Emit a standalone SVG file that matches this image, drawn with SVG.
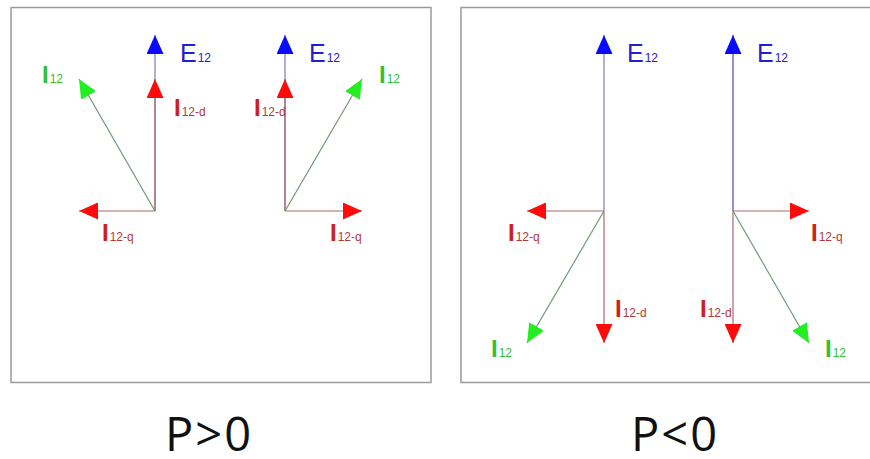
<svg xmlns="http://www.w3.org/2000/svg" width="870" height="459" viewBox="0 0 870 459">
<defs>
<style>
.frame{fill:#fff;stroke:#9a9a9a;stroke-width:1.5}
.le{stroke:#7f7fb5;stroke-width:1.2;fill:none}
.le2{stroke:#4a4aa8;stroke-width:1.2;fill:none}
.lr{stroke:#a86a6a;stroke-width:1.2;fill:none}
.lg{stroke:#6f9a6f;stroke-width:1.2;fill:none}
.ab{marker-end:url(#mb)}
.ar{marker-end:url(#mr)}
.ag{marker-end:url(#mg)}
text{font-family:"Liberation Sans",Arial,sans-serif}
.big{font-size:25px}
.bi{font-size:24px;font-weight:bold}
.sub{font-size:12px}
.te{fill:#2020d0}
.tr{fill:#cc2020}
.tsr{fill:#b03838}
.tg{fill:#33c033}
.tp{font-family:"Open Sans","Noto Sans",sans-serif;font-size:47px;letter-spacing:2px;fill:#111}
</style>
<marker id="mb" viewBox="0 0 19 17" refX="19" refY="8.5" markerWidth="19" markerHeight="17" markerUnits="userSpaceOnUse" orient="auto"><path d="M0,0 L19,8.5 L0,17 Z" fill="#0a0aff"/></marker>
<marker id="mr" viewBox="0 0 19 17" refX="19" refY="8.5" markerWidth="19" markerHeight="17" markerUnits="userSpaceOnUse" orient="auto"><path d="M0,0 L19,8.5 L0,17 Z" fill="#ff0a0a"/></marker>
<marker id="mg" viewBox="0 0 19 17" refX="19" refY="8.5" markerWidth="19" markerHeight="17" markerUnits="userSpaceOnUse" orient="auto"><path d="M0,0 L19,8.5 L0,17 Z" fill="#22ee22"/></marker>
</defs>
<rect class="frame" x="11" y="7.5" width="420" height="375"/>
<rect class="frame" x="461" y="7.5" width="420" height="375"/>
<g id="connectors">
<line class="le ab" x1="155" y1="211" x2="155" y2="35"/>
<line class="lr ar" x1="155" y1="211" x2="155" y2="79"/>
<line class="lr ar" x1="155" y1="211" x2="79" y2="211"/>
<line class="lg ag" x1="155" y1="211" x2="79" y2="79"/>
<line class="le ab" x1="285" y1="211" x2="285" y2="35"/>
<line class="lr ar" x1="285" y1="211" x2="285" y2="79"/>
<line class="lr ar" x1="285" y1="211" x2="362" y2="211"/>
<line class="lg ag" x1="285" y1="211" x2="362" y2="79"/>
<line class="le ab" x1="604" y1="211" x2="604" y2="35"/>
<line class="lr ar" x1="604" y1="211" x2="604" y2="343"/>
<line class="lr ar" x1="604" y1="211" x2="527" y2="211"/>
<line class="lg ag" x1="604" y1="211" x2="527" y2="343"/>
<line class="le2 ab" x1="733" y1="211" x2="733" y2="35"/>
<line class="lr ar" x1="733" y1="211" x2="733" y2="343"/>
<line class="lr ar" x1="733" y1="211" x2="809" y2="211"/>
<line class="lg ag" x1="733" y1="211" x2="809" y2="343"/>
</g>
<g id="diagram1">
<text x="180" y="62"><tspan class="big te">E</tspan><tspan class="sub te" dx="1">12</tspan></text>
<text x="42" y="83"><tspan class="bi tg">I</tspan><tspan class="sub tg" dx="1">12</tspan></text>
<text x="174" y="116"><tspan class="bi tr">I</tspan><tspan class="sub tsr" dx="1">12-d</tspan></text>
<text x="102" y="241"><tspan class="bi tr">I</tspan><tspan class="sub tsr" dx="1">12-q</tspan></text>
</g>
<g id="diagram2">
<text x="309" y="62"><tspan class="big te">E</tspan><tspan class="sub te" dx="1">12</tspan></text>
<text x="379" y="83"><tspan class="bi tg">I</tspan><tspan class="sub tg" dx="1">12</tspan></text>
<text x="254" y="116"><tspan class="bi tr">I</tspan><tspan class="sub tsr" dx="1">12-d</tspan></text>
<text x="330" y="241"><tspan class="bi tr">I</tspan><tspan class="sub tsr" dx="1">12-q</tspan></text>
</g>
<g id="diagram3">
<text x="627" y="62"><tspan class="big te">E</tspan><tspan class="sub te" dx="1">12</tspan></text>
<text x="508" y="241"><tspan class="bi tr">I</tspan><tspan class="sub tsr" dx="1">12-q</tspan></text>
<text x="615" y="317"><tspan class="bi tr">I</tspan><tspan class="sub tsr" dx="1">12-d</tspan></text>
<text x="491" y="357"><tspan class="bi tg">I</tspan><tspan class="sub tg" dx="1">12</tspan></text>
</g>
<g id="diagram4">
<text x="757" y="62"><tspan class="big te">E</tspan><tspan class="sub te" dx="1">12</tspan></text>
<text x="811" y="241"><tspan class="bi tr">I</tspan><tspan class="sub tsr" dx="1">12-q</tspan></text>
<text x="700" y="317"><tspan class="bi tr">I</tspan><tspan class="sub tsr" dx="1">12-d</tspan></text>
<text x="825" y="357"><tspan class="bi tg">I</tspan><tspan class="sub tg" dx="1">12</tspan></text>
</g>
<g id="captions">
<text class="tp" x="209" y="451" text-anchor="middle">P&gt;0</text>
<text class="tp" x="675" y="451" text-anchor="middle">P&lt;0</text>
</g>
</svg>
